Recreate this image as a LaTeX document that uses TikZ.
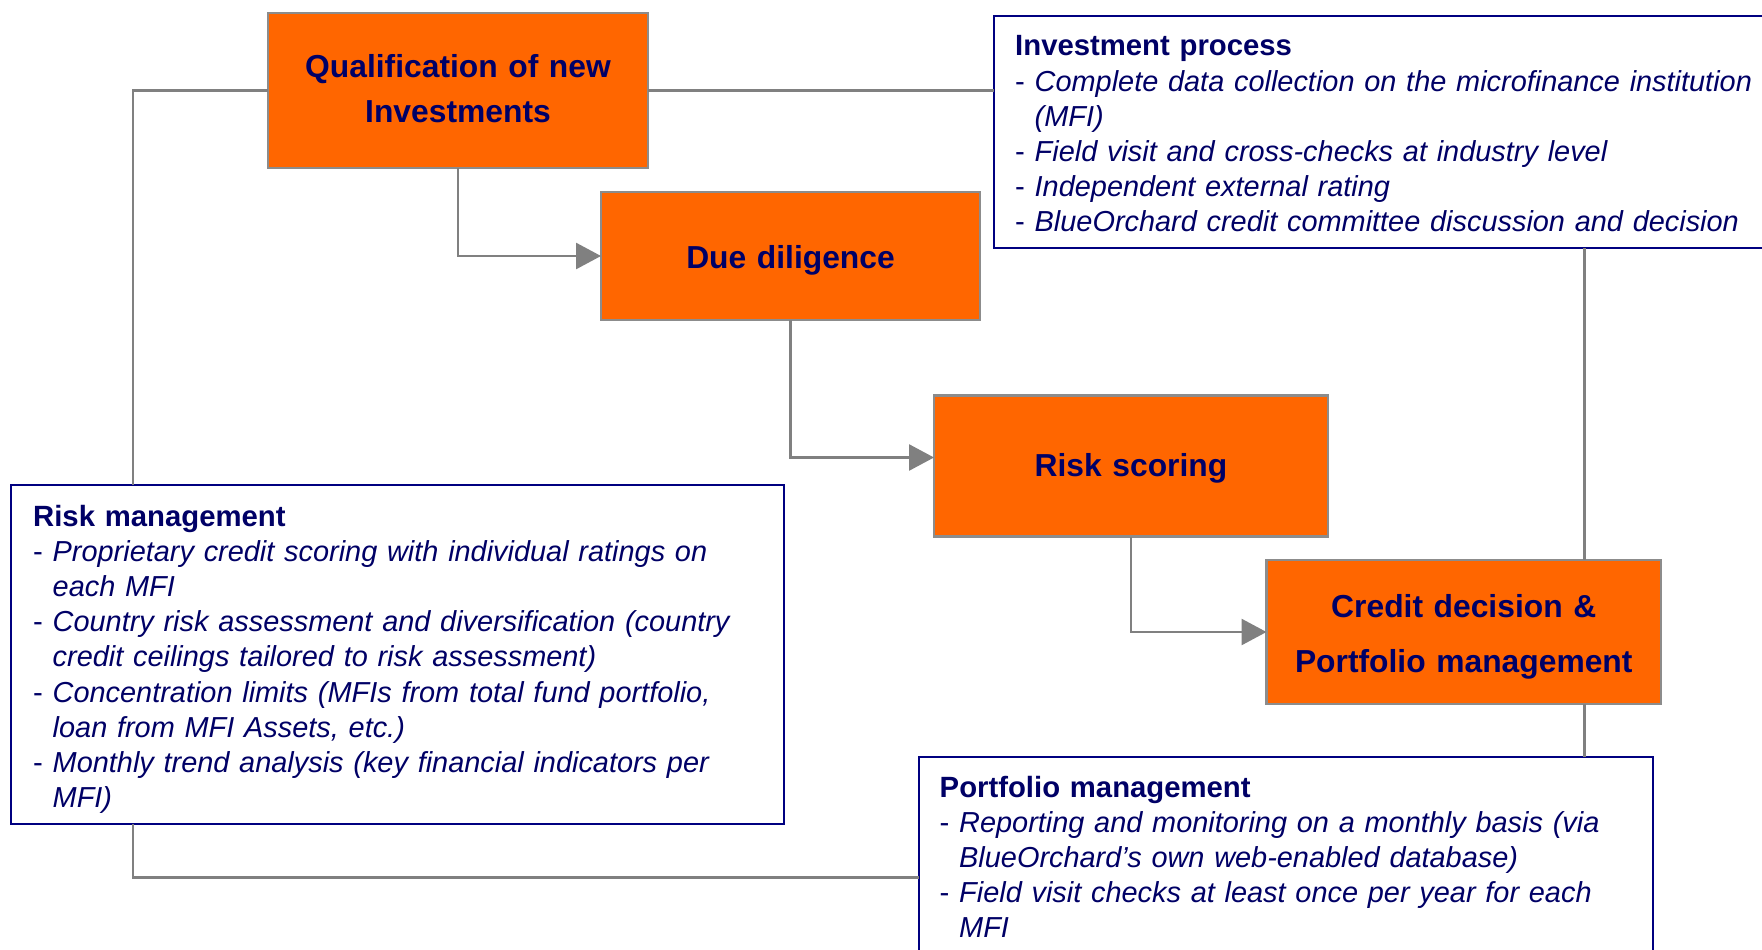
\documentclass[tikz,border=0pt]{standalone}
\usepackage{fontspec}
\setmainfont{Liberation Sans}
\usetikzlibrary{arrows.meta}

\definecolor{boxorange}{HTML}{FF6600}
\definecolor{inknavy}{HTML}{000066}
\definecolor{framenavy}{HTML}{000080}
\definecolor{linkgray}{HTML}{808080}
\definecolor{edgegray}{HTML}{8C8C8C}

% one bullet of a note: upright dash, italic text, hanging indent
\newcommand{\bitem}[1]{\par\hangindent=19.5pt\hangafter=1\makebox[19.5pt][l]{-}%
  {\fontsize{28.9}{35.2}\selectfont\itshape #1}}

\begin{document}
\begin{tikzpicture}[x=1pt,y=-1pt,
  stepbox/.style={draw=edgegray, line width=2.4pt, fill=boxorange, inner sep=0pt, outer sep=0pt},
  notebox/.style={draw=framenavy, line width=2pt, fill=white, inner sep=0pt, outer sep=0pt},
  steptext/.style={text=inknavy, font=\fontsize{31.8}{45}\selectfont\bfseries,
    align=center, text width=390pt, inner sep=0pt, anchor=base},
  notetext/.style={text=inknavy, font=\fontsize{29.3}{35.2}\selectfont,
    align=left, text width=760pt, inner sep=0pt, anchor=base west},
  conn/.style={draw=linkgray, line width=2.7pt},
  arr/.style={conn, -{Triangle[length=25pt,width=26pt]}}
]
\useasboundingbox (0,0) rectangle (1762,950);
\clip (0,0) rectangle (1762,950);
\fill[white] (0,0) rectangle (1762,950);

% process steps
\node[stepbox, minimum width=380pt, minimum height=155pt] (q) at (458,90.5) {};
\node[stepbox, minimum width=379pt, minimum height=128pt] (dd) at (790.5,256) {};
\node[stepbox, minimum width=394pt, minimum height=141pt] (rs) at (1131,466) {};
\node[stepbox, minimum width=394.5pt, minimum height=144pt] (cd) at (1463.75,632) {};

\node[steptext] (qt) at (458,77.3) {Qualification of new\\Investments};
\node[steptext] (ddt) at (790.5,268.3) {Due diligence};
\node[steptext] (rst) at (1131,476.7) {Risk scoring};
\node[steptext, font=\fontsize{31.8}{55}\selectfont\bfseries] (cdt) at (1463.75,617.7)
  {Credit decision \&\\Portfolio management};

% explanatory notes
\node[notebox, minimum width=781pt, minimum height=232.3pt] (ip) at (1384.5,131.85) {};
\node[notebox, minimum width=773pt, minimum height=339.5pt] (rm) at (397.5,654.25) {};
\node[notebox, minimum width=734pt, minimum height=223pt] (pm) at (1286,868.5) {};

\node[notetext] (ipt) at (1015,56) {%
  {\bfseries Investment process}
  \bitem{Complete data collection on the microfinance institution\newline (MFI)}
  \bitem{Field visit and cross-checks at industry level}
  \bitem{Independent external rating}
  \bitem{BlueOrchard credit committee discussion and decision}\par};

\node[notetext] (rmt) at (33,526) {%
  {\bfseries Risk management}
  \bitem{Proprietary credit scoring with individual ratings on\newline each MFI}
  \bitem{Country risk assessment and diversification (country\newline credit ceilings tailored to risk assessment)}
  \bitem{Concentration limits (MFIs from total fund portfolio,\newline loan from MFI Assets, etc.)}
  \bitem{Monthly trend analysis (key financial indicators per\newline MFI)}\par};

\node[notetext] (pmt) at (939.5,797) {%
  {\bfseries Portfolio management}
  \bitem{Reporting and monitoring on a monthly basis (via\newline BlueOrchard’s own web-enabled database)}
  \bitem{Field visit checks at least once per year for each\newline MFI}\par};

% guide coordinates for the side links
\coordinate (lx) at (133,0);
\coordinate (ly) at (0,877.5);
\coordinate (rx) at (1584.5,0);

% step-to-step arrows
\draw[arr] (q.south) |- (dd.west);
\draw[arr] (dd.south) |- ([yshift=8.5pt]rs.west);
\draw[arr] (rs.south) |- (cd.west);

% links to the notes
\draw[conn] (q.east) -- (q.east -| ip.west);
\draw[conn] (q.west) -| (lx |- rm.north);
\draw[conn] (lx |- rm.south) |- (pm.west |- ly);
\draw[conn] (ip.south -| rx) -- (cd.north -| rx);
\draw[conn] (cd.south -| rx) -- (pm.north -| rx);
\end{tikzpicture}
\end{document}
